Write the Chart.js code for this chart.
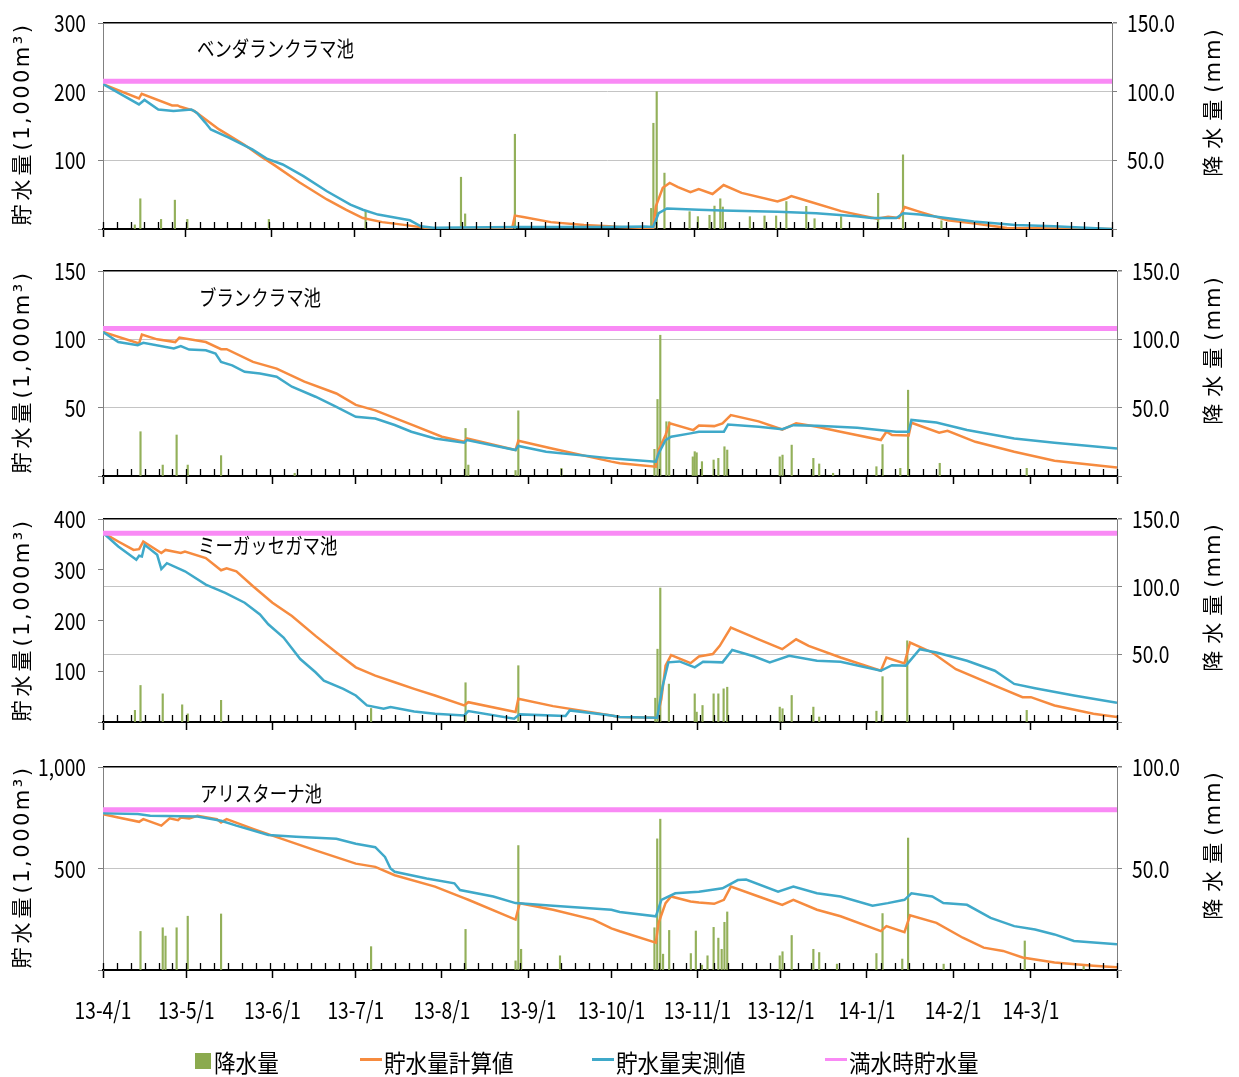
<!DOCTYPE html>
<html>
<head>
<meta charset="utf-8">
<script src="https://cdn.jsdelivr.net/npm/chart.js@4.4.1/dist/chart.umd.min.js"></script>
<style>
body { margin: 0; background: #fff; width: 1239px; height: 1077px; position: relative; overflow: hidden; font-family: 'Noto Sans CJK JP', sans-serif; color: #000; }
canvas { position: absolute; left: 0; }
.pond { position: absolute; font-size: 21px; line-height: 21px; transform: scaleX(0.83); transform-origin: 0 50%; white-space: nowrap; }
.ytitle { position: absolute; white-space: nowrap; transform: translate(-50%, -50%) rotate(-90deg); font-family: 'DejaVu Sans', 'Noto Sans CJK JP', sans-serif; font-size: 21px; line-height: 21px; letter-spacing: 2.5px; }
.ytitle .jp { letter-spacing: 4px; }
.ytitle.r { letter-spacing: 2px; }
.ytitle.r .jp { letter-spacing: 7px; }
.leg { position: absolute; font-size: 24px; line-height: 24px; top: 1050px; transform: scaleX(0.9); transform-origin: 0 50%; white-space: nowrap; }
.sw { position: absolute; }
</style>
</head>
<body>
<canvas id="c1" width="1239" height="250" style="top:0px"></canvas>
<canvas id="c2" width="1239" height="250" style="top:250px"></canvas>
<canvas id="c3" width="1239" height="245" style="top:500px"></canvas>
<canvas id="c4" width="1239" height="300" style="top:745px"></canvas>

<div class="pond" style="left:197px;top:37px">ベンダランクラマ池</div>
<div class="pond" style="left:199px;top:286px">ブランクラマ池</div>
<div class="pond" style="left:198px;top:534px">ミーガッセガマ池</div>
<div class="pond" style="left:200px;top:782px">アリスターナ池</div>

<div class="ytitle" style="left:22px;top:124px"><span class="jp">貯水量</span>(1,000m³)</div>
<div class="ytitle" style="left:22px;top:372px"><span class="jp">貯水量</span>(1,000m³)</div>
<div class="ytitle" style="left:22px;top:620px"><span class="jp">貯水量</span>(1,000m³)</div>
<div class="ytitle" style="left:22px;top:867px"><span class="jp">貯水量</span>(1,000m³)</div>
<div class="ytitle r" style="left:1213px;top:102px"><span class="jp">降水量</span>(mm)</div>
<div class="ytitle r" style="left:1213px;top:350px"><span class="jp">降水量</span>(mm)</div>
<div class="ytitle r" style="left:1213px;top:597px"><span class="jp">降水量</span>(mm)</div>
<div class="ytitle r" style="left:1213px;top:845px"><span class="jp">降水量</span>(mm)</div>

<div class="sw" style="left:195px;top:1053px;width:16px;height:16px;background:#8BAA4E"></div>
<div class="leg" style="left:214px">降水量</div>
<div class="sw" style="left:360px;top:1058px;width:22px;height:3px;background:#F68B3F"></div>
<div class="leg" style="left:384px">貯水量計算値</div>
<div class="sw" style="left:592px;top:1058px;width:22px;height:3px;background:#3FA9C9"></div>
<div class="leg" style="left:616px">貯水量実測値</div>
<div class="sw" style="left:825px;top:1058px;width:22px;height:3px;background:#F98AF5"></div>
<div class="leg" style="left:849px">満水時貯水量</div>

<script>
// days counted from 2013-04-01
const monthTicks = [0, 30, 61, 91, 122, 153, 183, 214, 244, 275, 306, 334, 365];
const monthLabels = ['13-4/1', '13-5/1', '13-6/1', '13-7/1', '13-8/1', '13-9/1', '13-10/1', '13-11/1', '13-12/1', '14-1/1', '14-2/1', '14-3/1', ''];
const minorStep = 5;

// ベンダランクラマ池
const fullLevel1 = 215;
const calcDays1 = [0, 13, 14, 25, 27, 28, 33, 42, 51, 57, 62, 71, 81, 88, 94, 101, 109, 117, 148, 149, 152, 162, 174, 183, 187, 199, 200, 202.5, 205, 208, 212.5, 215.5, 220.5, 224.5, 231, 244, 247, 249, 255.5, 267, 280, 284, 288, 290, 295.5, 305.5, 315.5, 327, 365];
const calcVals1 = [211, 190, 197, 180, 180, 178, 172, 145, 123, 106, 93, 68, 43, 28, 16, 10, 6, 1.5, 1, 19.5, 17.5, 10, 6, 4, 3, 1, 33, 60, 67, 61, 53.5, 58, 51, 64, 52.6, 40, 44, 48, 40, 26, 15, 18, 16, 32, 25, 12.7, 8, 1.5, 0];
const measDays1 = [0, 13, 15, 20, 25.5, 32, 34, 37, 39, 45.5, 54, 59.5, 65, 72.5, 81, 89.5, 94, 99.5, 106.5, 111, 115, 119.5, 150, 183, 196, 199, 201, 204, 215.5, 224, 244, 258, 272.5, 278, 287, 289.5, 295.5, 305, 315, 330, 344, 365];
const measVals1 = [211, 181.5, 188, 174, 172, 174, 169, 155, 145, 133, 116, 102, 94, 77, 55, 35.5, 28, 21, 16, 12.7, 4, 2, 3, 3, 3.5, 3, 23, 30, 28, 27, 25, 23, 18.5, 16, 16, 23, 21, 16, 11, 6, 4, 0];
const rainDays1 = [11.5, 13.5, 21, 26, 30.5, 60, 95, 129.5, 131, 149, 198.3, 199.1, 200.3, 203.1, 212.2, 215.2, 219.4, 221.2, 223.3, 224.2, 234, 239.3, 243.5, 247.2, 254.4, 257.4, 267, 280.4, 289.4, 303.3];
const rainVals1 = [3, 22, 7, 21, 7, 7, 13.6, 37.7, 11, 69, 15, 77, 100, 40.7, 12.6, 9, 10, 16.7, 22, 16, 9, 9.5, 9.5, 20, 16.5, 7.5, 9, 26, 54, 6];

// ブランクラマ池
const fullLevel2 = 108;
const calcDays2 = [0, 13, 14, 19.5, 26, 27.5, 37, 42.5, 44.5, 54, 62.5, 72.5, 84, 91, 98, 112, 122, 130, 131, 148.5, 149.5, 162, 183, 186, 199, 200, 202.5, 204, 212.5, 214.5, 220, 223, 226, 236, 244.5, 249.5, 257, 265.5, 280, 282, 284, 290, 291, 301, 304, 314, 328, 342.5, 365];
const calcVals2 = [105.4, 97, 103.5, 100, 98, 101.3, 98, 92.8, 92.8, 83.5, 78.6, 69, 60.4, 52, 48, 36.8, 28.7, 25, 27.5, 19, 25.8, 20, 10.5, 9.3, 6.8, 19, 30, 38.5, 33.6, 37, 36.5, 38.5, 44.6, 40, 34, 38.5, 36, 32.4, 26.3, 32.4, 30, 29.7, 39, 31.7, 33, 25, 17.8, 11.2, 6.3];
const measDays2 = [0, 5.5, 12.5, 14.5, 25.5, 28, 31, 37, 40.5, 42.5, 46.5, 51, 56.5, 62.5, 68, 76.5, 84, 91, 98, 105, 111, 119.5, 130, 131, 148.5, 149.5, 159.5, 183, 186, 199, 200, 202.5, 204.5, 211.5, 214.5, 223.5, 225, 236, 244.5, 248.5, 257, 271.5, 285.5, 290, 291, 300, 311, 328, 342.5, 365];
const measVals2 = [105.4, 98, 95.7, 97.4, 93.3, 95, 92.5, 92, 89.6, 83.5, 81, 76.2, 75, 72.6, 65.3, 58, 50.6, 43.3, 42, 37.3, 32.4, 27.5, 24.3, 26.3, 19, 22, 17.8, 12.9, 12.4, 10.5, 16.5, 26.3, 28.7, 31.2, 32.4, 32.4, 37.7, 36, 34.3, 37.2, 36.8, 35.3, 32.4, 32.4, 41, 39.2, 33.6, 27.5, 24.3, 20.2];
const rainDays2 = [13.5, 21.5, 26.5, 30.5, 42.5, 69, 130.5, 131.5, 148.5, 149.5, 165, 198.5, 199.6, 200.6, 202.8, 203.8, 212.3, 213, 213.7, 215.6, 219.8, 221.5, 223.7, 224.7, 243.6, 244.6, 247.9, 255.7, 257.8, 262.8, 278.4, 280.6, 287, 289.8, 301.2, 332.5];
const rainVals2 = [32.4, 8, 30, 8, 14.9, 2, 34.8, 8, 4, 47.7, 5.6, 19.5, 56, 103, 39.7, 39.7, 14, 17.8, 17, 10.5, 11.7, 12.9, 21.4, 19, 14, 15.3, 22.6, 12.9, 8.8, 2, 6.8, 23, 5.6, 62.8, 9.3, 5.6];

// ミーガッセガマ池
const fullLevel3 = 372;
const calcDays3 = [0, 5.5, 11, 13, 14.5, 21, 22.5, 28, 29.5, 37, 42.5, 44.5, 48, 54, 61, 68, 76.5, 84, 91, 98, 105, 112, 119.5, 130, 131.5, 148.5, 149.5, 162, 183, 186, 199.5, 201, 202.5, 204.5, 211.5, 214.5, 219.5, 222, 226, 236, 244.5, 249.5, 254, 265.5, 280, 282, 288.5, 290.5, 298.5, 307, 321, 331, 334, 342.5, 356.5, 365];
const calcVals3 = [373, 355.6, 339, 340.6, 355.6, 333, 339, 333, 336, 323, 299, 303, 297, 267.5, 235, 209, 169.7, 137, 107.7, 91.4, 78.3, 65.3, 52.2, 32.6, 39, 19.6, 45.7, 31.3, 13, 9.8, 8.5, 45.7, 111, 131.8, 116, 129, 133.8, 150, 186, 163, 143.5, 163, 150, 127, 101, 127, 115.5, 156.6, 137, 104, 71.8, 49, 49, 32.6, 16.3, 9.8];
const measDays3 = [0, 5.5, 12, 13, 14, 15, 19.5, 21, 23, 29.5, 37, 44, 51, 56.5, 59.5, 65, 71, 76.5, 79.5, 86.5, 91, 95, 101, 103.5, 112, 119.5, 130, 131.5, 148, 150, 166.5, 168, 183, 186, 199.5, 201.5, 203.5, 207.5, 213, 216, 223, 226.5, 234.5, 240, 247, 257, 265.5, 280, 284, 289, 294, 300, 311, 321, 328, 335.5, 349.5, 365];
const measVals3 = [373, 345.8, 319.7, 327.5, 326, 349, 329.5, 301.5, 313, 297, 270.8, 254.5, 235, 212, 192.5, 166.4, 124, 98, 81.6, 65.3, 52.2, 32.6, 26, 29.4, 20.9, 16.3, 13, 21.5, 6.5, 15, 11.7, 22.8, 13, 9.8, 8.5, 71.8, 117.5, 119.4, 107.7, 118.7, 117.5, 142, 129, 117.5, 130.5, 120.7, 118.7, 101, 112, 111, 143.5, 137, 120.7, 101, 75, 66.6, 52.2, 37.8];
const rainDays3 = [11.5, 13.5, 21.5, 28.5, 30.5, 42.5, 96.5, 130.5, 149.5, 198.8, 199.6, 200.6, 203.7, 213, 213.7, 215.8, 219.8, 221.5, 223.4, 224.7, 243.6, 244.6, 247.9, 255.7, 257.8, 278.4, 280.6, 289.5, 332.5];
const rainVals3 = [8.6, 27, 20.8, 12.7, 6, 16, 10, 29, 41.6, 17.6, 53.8, 99, 28, 20.8, 7.3, 12.2, 20.8, 20.8, 24.5, 25.7, 11, 9.8, 19.6, 11, 3.7, 8, 33.5, 60, 8.6];

// アリスターナ池
const fullLevel4 = 790;
const calcDays4 = [0, 5.5, 13, 14.5, 21, 24, 27, 28, 31, 34, 41, 42.5, 44.5, 54, 61, 76.5, 91, 98, 105, 119.5, 130, 131.5, 148.5, 150, 162, 176.5, 183, 186, 199, 200, 202.5, 204.5, 211.5, 214.5, 220, 223.5, 226, 236, 244.5, 248.5, 257, 265.5, 280, 282, 288.5, 290.5, 300, 309.5, 317, 324, 331, 342.5, 356.5, 365];
const calcVals4 = [768, 751, 730, 743, 711, 747, 738, 751, 747, 760, 743, 727, 743, 695, 662, 589, 524, 508, 467, 411, 354, 346, 248, 329, 297, 248, 205, 191, 135, 232, 329.5, 362, 337.6, 332.7, 326, 345.7, 410.6, 362, 321, 345.7, 297, 264.5, 191.5, 216, 186.6, 269.4, 232, 159, 110, 94, 61.7, 37.3, 21, 13];
const measDays4 = [0, 12.5, 17, 34, 42.5, 48, 59.5, 69.5, 84, 91, 98, 101.5, 103.5, 105, 116.5, 126.5, 128.5, 140.5, 148.5, 162, 183, 186, 199, 201, 206, 214.5, 223, 228.5, 231.5, 243, 248.5, 257, 265.5, 277, 282.5, 288.5, 291, 298.5, 302.5, 311, 319.5, 328, 335.5, 342.5, 349.5, 365];
const measVals4 = [772, 768, 760, 756, 735, 711, 665, 657, 646, 621.6, 605, 557, 500, 484, 451, 427, 394, 362, 329.5, 316.5, 297, 286, 264.5, 345.7, 378, 386, 402.5, 443, 446, 386, 410.6, 378, 362, 316.5, 329.5, 345.7, 378, 362, 329.5, 321, 256.4, 216, 199.6, 175.3, 143, 126.6];
const rainDays4 = [13.5, 21.5, 22.5, 26.5, 30.5, 42.5, 96.5, 130.5, 148.5, 149.5, 150.5, 164.5, 198.5, 199.5, 200.6, 201.6, 203.8, 211.6, 213.4, 215.6, 217.6, 219.8, 221.5, 222.7, 223.7, 224.7, 243.6, 244.6, 247.9, 255.7, 257.8, 264.2, 278.4, 280.6, 287.7, 289.8, 302.6, 331.8, 353];
const rainVals4 = [19, 20.8, 16.7, 20.8, 26.5, 27.6, 11.5, 20, 4.5, 61.3, 10.2, 7, 20.8, 64.6, 74.3, 7.8, 19.5, 8.1, 19.2, 2.4, 7, 21, 15.7, 10.2, 23.5, 28.6, 7, 9, 17, 10.2, 8.6, 2.9, 8.1, 27.8, 5.4, 65, 2.9, 14.3, 1.8];

const ORANGE = '#F68B3F', BLUE = '#3FA9C9', PINK = '#F98AF5', GREEN = '#93B05A';

function pts(days, vals) {
    return days.map((d, i) => ({ x: d, y: vals[i] }));
}

// small ticks every few days, pointing up into the plot
const minorTicks = {
    id: 'minorTicks',
    afterDatasetsDraw(chart) {
        const xs = chart.scales.x, b = chart.chartArea.bottom, ctx = chart.ctx;
        ctx.save();
        ctx.strokeStyle = '#000';
        ctx.lineWidth = 1.3;
        ctx.beginPath();
        for (let d = 0; d <= 365; d += minorStep) {
            const px = Math.round(xs.getPixelForValue(d)) + 0.5;
            ctx.moveTo(px, b);
            ctx.lineTo(px, b - 7);
        }
        ctx.stroke();
        ctx.restore();
    }
};

// tick labels in a narrow face, like the original
const narrowLabels = {
    id: 'narrowLabels',
    afterDraw(chart) {
        const ctx = chart.ctx;
        const {x, y, y2} = chart.scales;
        const put = (text, px, py, align) => {
            if (!text) return;
            ctx.save();
            ctx.translate(px, py);
            ctx.scale(0.8, 1);
            ctx.textAlign = align;
            ctx.textBaseline = 'middle';
            ctx.font = '24px "Noto Sans CJK JP"';
            ctx.fillStyle = '#000';
            ctx.fillText(text, 0, 0);
            ctx.restore();
        };
        y.ticks.forEach(t => put(t.value === 0 ? '' : t.value.toLocaleString('en-US'), y.right - 17, y.getPixelForValue(t.value), 'right'));
        y2.ticks.forEach(t => put(t.value === 0 ? '' : t.value.toFixed(1), y2.left + 15, y2.getPixelForValue(t.value), 'left'));
        if (chart.options.showMonths) {
            x.ticks.forEach((t, i) => put(monthLabels[i], x.getPixelForValue(t.value), x.top + 40, 'center'));
        }
    }
};

function panel(id, o) {
    new Chart(document.getElementById(id), {
        type: 'bar',
        data: {
            datasets: [
                { type: 'line', data: [{ x: 0, y: o.full }, { x: 365, y: o.full }], borderColor: PINK, borderWidth: 5, pointRadius: 0, yAxisID: 'y', order: 1 },
                { type: 'line', data: pts(o.measDays, o.measVals), borderColor: BLUE, borderWidth: 2.5, pointRadius: 0, yAxisID: 'y', order: 2 },
                { type: 'line', data: pts(o.calcDays, o.calcVals), borderColor: ORANGE, borderWidth: 2.5, pointRadius: 0, yAxisID: 'y', order: 3 },
                { type: 'bar', data: pts(o.rainDays, o.rainVals), backgroundColor: GREEN, barThickness: 1.5, yAxisID: 'y2', order: 4 }
            ]
        },
        options: {
            responsive: false,
            animation: false,
            devicePixelRatio: 1,
            showMonths: o.showX,
            layout: { padding: { top: o.padTop, left: 0, right: 0, bottom: 0 } },
            plugins: { legend: { display: false }, tooltip: { enabled: false } },
            scales: {
                x: {
                    type: 'linear', min: 0, max: 365, offset: false,
                    afterFit: s => { s.height = o.xHeight },
                    afterBuildTicks: s => { s.ticks = monthTicks.map(v => ({ value: v })) },
                    ticks: { display: false },
                    grid: { offset: false, drawOnChartArea: false, tickLength: 8, tickColor: '#000', tickWidth: 1.5 },
                    border: { color: '#000', width: 2 }
                },
                y: {
                    position: 'left', min: 0, max: o.yMax,
                    afterFit: s => { s.width = 103; s.paddingTop = 0; s.paddingBottom = 0 },
                    afterBuildTicks: s => { s.ticks = o.yTicks.map(v => ({ value: v })) },
                    ticks: { display: false },
                    grid: { drawOnChartArea: false, tickLength: 5, tickColor: '#808080' },
                    border: { color: '#808080', width: 1 }
                },
                y2: {
                    position: 'right', min: 0, max: o.y2Max,
                    afterFit: s => { s.width = o.rightW; s.paddingTop = 0; s.paddingBottom = 0 },
                    afterBuildTicks: s => { s.ticks = o.y2Ticks.map(v => ({ value: v })) },
                    ticks: { display: false },
                    grid: {
                        color: c => c.tick.value === o.y2Max ? '#000' : (c.tick.value === 0 ? 'rgba(0,0,0,0)' : '#C4C4C4'),
                        lineWidth: c => c.tick.value === o.y2Max ? 1.5 : 1,
                        tickLength: 5, tickColor: '#808080'
                    },
                    border: { color: '#808080', width: 1 }
                }
            }
        },
        plugins: [minorTicks, narrowLabels]
    });
}

panel('c1', { full: fullLevel1, calcDays: calcDays1, calcVals: calcVals1, measDays: measDays1, measVals: measVals1, rainDays: rainDays1, rainVals: rainVals1,
    yMax: 300, yTicks: [0, 100, 200, 300], y2Max: 150, y2Ticks: [0, 50, 100, 150], padTop: 23, xHeight: 21, rightW: 127, showX: false });
panel('c2', { full: fullLevel2, calcDays: calcDays2, calcVals: calcVals2, measDays: measDays2, measVals: measVals2, rainDays: rainDays2, rainVals: rainVals2,
    yMax: 150, yTicks: [0, 50, 100, 150], y2Max: 150, y2Ticks: [0, 50, 100, 150], padTop: 21, xHeight: 24, rightW: 122, showX: false });
panel('c3', { full: fullLevel3, calcDays: calcDays3, calcVals: calcVals3, measDays: measDays3, measVals: measVals3, rainDays: rainDays3, rainVals: rainVals3,
    yMax: 400, yTicks: [0, 100, 200, 300, 400], y2Max: 150, y2Ticks: [0, 50, 100, 150], padTop: 19, xHeight: 23, rightW: 122, showX: false });
panel('c4', { full: fullLevel4, calcDays: calcDays4, calcVals: calcVals4, measDays: measDays4, measVals: measVals4, rainDays: rainDays4, rainVals: rainVals4,
    yMax: 1000, yTicks: [0, 500, 1000], y2Max: 100, y2Ticks: [0, 50, 100], padTop: 22, xHeight: 75, rightW: 122, showX: true });
</script>
</body>
</html>
